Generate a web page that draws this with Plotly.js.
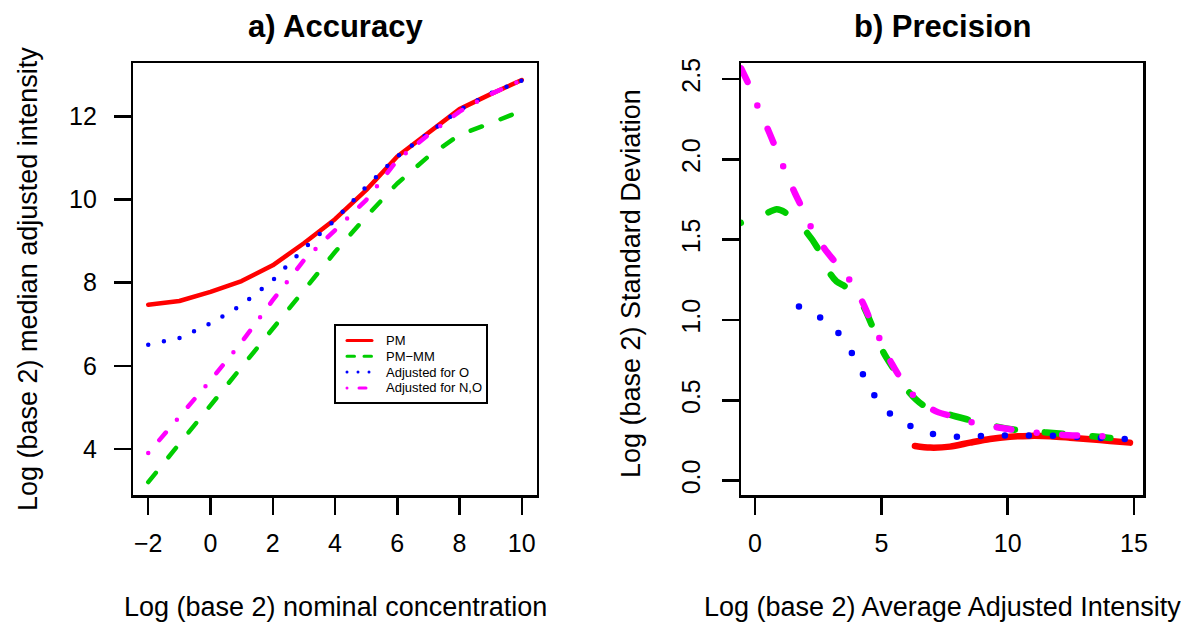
<!DOCTYPE html>
<html>
<head>
<meta charset="utf-8">
<script src="https://cdn.plot.ly/plotly-3.0.1.min.js"></script>
<style>
html,body{margin:0;padding:0;background:#fff;}
#chart{width:1181px;height:624px;}
path.js-line{stroke-linecap:round;stroke-linejoin:round;}
.shapelayer path{stroke-linecap:round;}
</style>
</head>
<body>
<div id="chart"></div>
<script>
// ---- a) Accuracy ----
const conc = [-2, -1, 0, 1, 2, 3, 4, 5, 6, 7, 8, 9, 10];
const pm    = [7.47, 7.56, 7.78, 8.04, 8.42, 8.95, 9.53, 10.23, 11.04, 11.60, 12.18, 12.54, 12.88];
const pmmm  = [3.20, 4.12, 5.05, 5.97, 6.87, 7.82, 8.74, 9.59, 10.39, 11.04, 11.56, 11.84, 12.14];
const adjO  = [6.51, 6.67, 7.02, 7.46, 8.06, 8.82, 9.51, 10.31, 11.04, 11.60, 12.16, 12.56, 12.87];
const adjNO = [3.90, 4.77, 5.65, 6.57, 7.58, 8.54, 9.27, 9.99, 10.95, 11.56, 12.12, 12.54, 12.88];
const xTicksA = [-2, 0, 2, 4, 6, 8, 10];
const xLabelsA = ['\u22122', '0', '2', '4', '6', '8', '10'];
const yTicksA = [4, 6, 8, 10, 12];

// ---- b) Precision ----
const avgPM  = [6.33, 6.93, 7.72, 8.51, 9.30, 10.09, 10.88, 11.68, 12.47, 13.26, 14.05, 14.84];
const sdPM   = [0.216, 0.206, 0.212, 0.237, 0.260, 0.274, 0.279, 0.277, 0.268, 0.258, 0.247, 0.237];
const avgPMMM = [-1.25, -0.554, 0.00, 0.40, 0.86, 1.19, 1.50, 2.02, 2.47, 2.97, 3.23, 3.56, 3.85, 4.29, 4.62, 5.08, 5.47, 6.13, 6.66, 7.72, 8.44, 9.56, 10.36, 11.54, 12.86, 13.79, 14.50];
const sdPMMM  = [1.575, 1.605, 1.63, 1.66, 1.69, 1.67, 1.62, 1.55, 1.45, 1.29, 1.24, 1.21, 1.18, 1.085, 0.97, 0.80, 0.70, 0.545, 0.47, 0.41, 0.38, 0.337, 0.316, 0.300, 0.285, 0.270, 0.260];
const avgO = [1.74, 2.57, 3.30, 3.83, 4.27, 4.72, 5.33, 6.15, 7.04, 8.01, 8.96, 9.91, 10.86, 11.81, 12.76, 13.71, 14.66];
const sdO  = [1.085, 1.017, 0.919, 0.796, 0.663, 0.532, 0.420, 0.341, 0.291, 0.274, 0.279, 0.281, 0.281, 0.279, 0.272, 0.266, 0.260];
const avgNO = [-0.554, -0.20, 0.16, 0.53, 0.82, 1.19, 1.58, 1.89, 2.28, 2.77, 3.23, 3.83, 4.29, 4.62, 5.01, 5.41, 5.80, 6.40, 7.19, 7.98, 8.77, 9.70, 10.49, 11.35, 12.20, 13.06, 13.98];
const sdNO  = [2.567, 2.45, 2.31, 2.18, 2.07, 1.93, 1.79, 1.69, 1.56, 1.44, 1.35, 1.23, 1.10, 0.98, 0.86, 0.73, 0.63, 0.51, 0.43, 0.395, 0.354, 0.330, 0.310, 0.295, 0.285, 0.280, 0.275];
const xTicksB = [0, 5, 10, 15];
const yTicksB = [0, 0.5, 1, 1.5, 2, 2.5];
const yLabelsB = ['0.0', '0.5', '1.0', '1.5', '2.0', '2.5'];

const names = ['PM', 'PM\u2212MM', 'Adjusted for O', 'Adjusted for N,O'];
const colors = ['#ff0000', '#00cd00', '#0000ff', '#ff00ff'];
const dashA = ['solid', '12px,20px', '0px,16px', '0px,17px,10px,17px'];
const dashB = ['solid', '18px,30px', '0px,24px', '15px,25.5px,0px,25.5px'];
const dashLeg = ['solid', '7.5px,9.5px', '0px,11px', '0px,12px,7px,12px'];

const FONT = 'Liberation Sans, Arial, Helvetica, sans-serif';
const W = 1181, H = 624;
const px = v => v / W;
const py = v => 1 - v / H;

const seriesA = [pm, pmmm, adjO, adjNO];
const traces = [];
seriesA.forEach((ys, i) => {
  traces.push({
    x: conc, y: ys, type: 'scatter', mode: 'lines', name: names[i],
    xaxis: 'x', yaxis: 'y', showlegend: false,
    line: {color: colors[i], width: 4.5, dash: dashA[i]},
    hoverinfo: 'skip'
  });
});
const seriesB = [[avgPM, sdPM], [avgPMMM, sdPMMM], [avgO, sdO], [avgNO, sdNO]];
seriesB.forEach((s, i) => {
  traces.push({
    x: s[0], y: s[1], type: 'scatter', mode: 'lines', name: names[i],
    xaxis: 'x2', yaxis: 'y2', showlegend: false,
    line: {color: colors[i], width: 6.5, dash: dashB[i], shape: 'spline', smoothing: 0.8},
    hoverinfo: 'skip'
  });
});

const axBase = {
  showgrid: false, zeroline: false, showline: true, mirror: true,
  linecolor: '#000', linewidth: 2.5, ticks: 'outside', ticklen: 17, tickwidth: 2.5,
  tickcolor: '#000', tickfont: {family: FONT, size: 25, color: '#000'}, fixedrange: true
};
const yDom = [1 - 495 / H, 1 - 63 / H];

// legend (drawn as layout shapes + text)
const legBox = {x0: 335, x1: 487, y0: 325, y1: 403};
const legRows = [340.5, 356.3, 372.1, 387.9];
const shapes = [{
  type: 'rect', xref: 'paper', yref: 'paper', layer: 'above',
  x0: px(legBox.x0), x1: px(legBox.x1), y0: py(legBox.y1), y1: py(legBox.y0),
  fillcolor: '#fff', line: {color: '#000', width: 2}
}];
const annotations = [];
names.forEach((n, i) => {
  shapes.push({
    type: 'line', xref: 'paper', yref: 'paper', layer: 'above',
    x0: px(347), x1: px(372), y0: py(legRows[i]), y1: py(legRows[i]),
    line: {color: colors[i], width: 3, dash: dashLeg[i]}
  });
  annotations.push({
    text: n, x: px(384), y: py(legRows[i]), xref: 'paper', yref: 'paper', showarrow: false,
    xanchor: 'left', yanchor: 'middle', font: {family: FONT, size: 13, color: '#000'}
  });
});

const txt = (text, x, y, size, angle) => ({
  text: text, x: px(x), y: py(y), xref: 'paper', yref: 'paper', showarrow: false,
  textangle: angle || 0, xanchor: 'center', yanchor: 'middle',
  font: {family: FONT, size: size, color: '#000'}
});
annotations.push(
  txt('<b>a) Accuracy</b>', 335, 27, 31),
  txt('<b>b) Precision</b>', 942, 27, 31),
  txt('Log (base 2) nominal concentration', 335, 607, 27),
  txt('Log (base 2) Average Adjusted Intensity', 942, 607, 27),
  txt('Log (base 2) median adjusted intensity', 28, 279, 27, -90),
  txt('Log (base 2) Standard Deviation', 631, 284, 27, -90)
);

const layout = {
  width: W, height: H,
  margin: {l: 0, r: 0, t: 0, b: 0, pad: 0},
  paper_bgcolor: '#fff', plot_bgcolor: '#fff',
  showlegend: false,
  xaxis: Object.assign({}, axBase, {domain: [133.3 / W, 536.7 / W], range: [-2.48, 10.48], anchor: 'y',
    tickmode: 'array', tickvals: xTicksA, ticktext: xLabelsA, ticklabelstandoff: 7}),
  yaxis: Object.assign({}, axBase, {domain: yDom, range: [2.89, 13.29], anchor: 'x',
    tickmode: 'array', tickvals: yTicksA, ticktext: yTicksA.map(String), ticklabelstandoff: 12}),
  xaxis2: Object.assign({}, axBase, {domain: [741 / W, 1143.3 / W], range: [-0.554, 15.368], anchor: 'y2',
    tickmode: 'array', tickvals: xTicksB, ticktext: xTicksB.map(String), ticklabelstandoff: 7}),
  yaxis2: Object.assign({}, axBase, {domain: yDom, range: [-0.089, 2.6], anchor: 'x2',
    tickmode: 'array', tickvals: yTicksB, ticktext: yLabelsB, tickangle: -90, ticklabelstandoff: 12}),
  shapes: shapes,
  annotations: annotations
};

Plotly.newPlot('chart', traces, layout, {displayModeBar: false, staticPlot: true});
</script>
</body>
</html>
